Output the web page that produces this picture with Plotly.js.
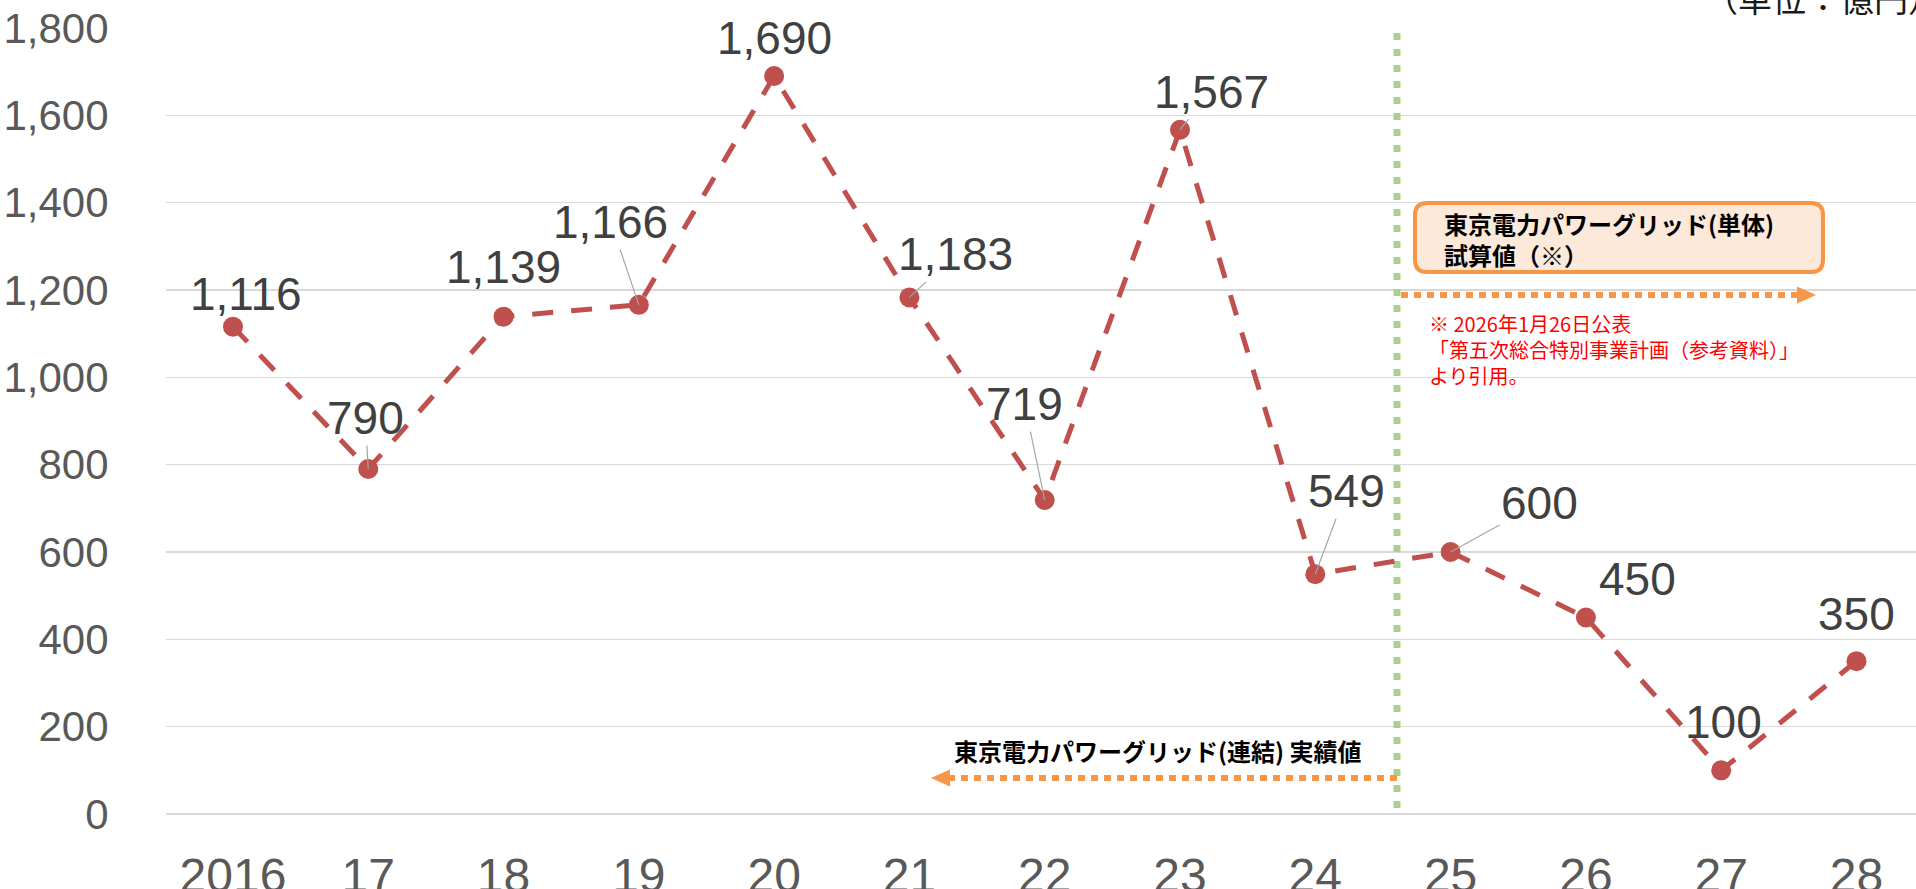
<!DOCTYPE html>
<html>
<head>
<meta charset="utf-8">
<script src="https://cdn.plot.ly/plotly-3.0.1.min.js"></script>
<style>html,body{margin:0;padding:0;background:#fff;}#chart{width:1916px;height:889px;}</style>
</head>
<body>
<div id="chart"></div>
<script>
// ---- data ----
const categories = ['2016','17','18','19','20','21','22','23','24','25','26','27','28'];
const values = [1116, 790, 1139, 1166, 1690, 1183, 719, 1567, 549, 600, 450, 100, 350];
const yTickValues = [0, 200, 400, 600, 800, 1000, 1200, 1400, 1600, 1800];

// ---- label placement (pixels relative to point) ----
const labelOffsets = [[13,-33],[-3,-51],[0,-50],[-28,-83],[0,-38],[46,-43],[-20,-96],[31,-38],[31,-83],[89,-49],[52,-39],[2,-48],[0,-47]];
const hasLeader = [false,true,false,true,false,true,true,true,true,true,false,false,false];

// ---- geometry ----
const L = 166, T = 28, W = 1750, H = 786;
const xr = [-0.495, 12.44], yr = [0, 1800];
const px2x = p => xr[0] + (p - L) / W * (xr[1] - xr[0]);
const py2y = p => yr[1] - (p - T) / H * (yr[1] - yr[0]);
const py2paper = p => 1 - (p - T) / H;

const idx = categories.map((c, i) => i);
const fmt = v => v.toLocaleString('en-US');

const trace = {
  x: idx, y: values, type: 'scatter', mode: 'lines+markers',
  line: {color: '#C0504D', width: 5, dash: '21px,18px'},
  marker: {color: '#C0504D', size: 20},
  cliponaxis: false, hoverinfo: 'skip'
};

const annotations = values.map((v, i) => ({
  x: i, y: v, xref: 'x', yref: 'y', text: fmt(v),
  showarrow: true, arrowhead: 0, arrowwidth: 1.2, standoff: 0,
  arrowcolor: hasLeader[i] ? '#A6A6A6' : 'rgba(0,0,0,0)',
  ax: labelOffsets[i][0], ay: labelOffsets[i][1],
  font: {family: 'Liberation Sans, Arial, sans-serif', size: 46, color: '#404040'}
}));

const cjk = "'Noto Sans CJK JP', 'Noto Sans', sans-serif";
annotations.push(
  {x: px2x(1442), y: py2y(239), xref: 'x', yref: 'y', xanchor: 'left', yanchor: 'middle', align: 'left', showarrow: false,
   text: '東京電力パワーグリッド(単体)<br>試算値（※）', font: {family: cjk, size: 24, color: '#000', weight: 700}},
  {x: px2x(952), y: py2y(750), xref: 'x', yref: 'y', xanchor: 'left', yanchor: 'middle', showarrow: false,
   text: '東京電力パワーグリッド(連結) 実績値', font: {family: cjk, size: 24, color: '#000', weight: 700}},
  {x: px2x(1427), y: py2y(323), xref: 'x', yref: 'y', xanchor: 'left', yanchor: 'middle', showarrow: false,
   text: '※ 2026年1月26日公表', font: {family: cjk, size: 20, color: '#FF0000'}},
  {x: px2x(1427), y: py2y(349), xref: 'x', yref: 'y', xanchor: 'left', yanchor: 'middle', showarrow: false,
   text: '「第五次総合特別事業計画（参考資料）」', font: {family: cjk, size: 20, color: '#FF0000'}},
  {x: px2x(1427), y: py2y(375), xref: 'x', yref: 'y', xanchor: 'left', yanchor: 'middle', showarrow: false,
   text: 'より引用。', font: {family: cjk, size: 20, color: '#FF0000'}},
  {x: px2x(1702), y: py2paper(-3), xref: 'x', yref: 'paper', xanchor: 'left', yanchor: 'middle', showarrow: false,
   text: '（単位：億円）', font: {family: cjk, size: 34, color: '#1a1a1a'}}
);

// rounded box
function roundRect(x0p, y0p, x1p, y1p, r) {
  const X = px2x, Y = py2y;
  return `M ${X(x0p+r)},${Y(y0p)} L ${X(x1p-r)},${Y(y0p)} Q ${X(x1p)},${Y(y0p)} ${X(x1p)},${Y(y0p+r)} ` +
         `L ${X(x1p)},${Y(y1p-r)} Q ${X(x1p)},${Y(y1p)} ${X(x1p-r)},${Y(y1p)} ` +
         `L ${X(x0p+r)},${Y(y1p)} Q ${X(x0p)},${Y(y1p)} ${X(x0p)},${Y(y1p-r)} ` +
         `L ${X(x0p)},${Y(y0p+r)} Q ${X(x0p)},${Y(y0p)} ${X(x0p+r)},${Y(y0p)} Z`;
}

const shapes = [
  {type: 'line', xref: 'x', yref: 'y', layer: 'between', x0: px2x(1397), x1: px2x(1397), y0: py2y(33), y1: py2y(808),
   line: {color: '#A9D18E', width: 7, dash: '7px,9px'}},
  {type: 'line', xref: 'x', yref: 'y', x0: px2x(1401), x1: px2x(1798), y0: py2y(295), y1: py2y(295),
   line: {color: '#F79646', width: 6, dash: '7px,6px'}},
  {type: 'path', xref: 'x', yref: 'y', path: `M ${px2x(1797)},${py2y(286.5)} L ${px2x(1816)},${py2y(295)} L ${px2x(1797)},${py2y(303.5)} Z`,
   fillcolor: '#F79646', line: {width: 0}},
  {type: 'line', xref: 'x', yref: 'y', x0: px2x(1397), x1: px2x(949), y0: py2y(778), y1: py2y(778),
   line: {color: '#F79646', width: 6, dash: '7px,6px'}},
  {type: 'path', xref: 'x', yref: 'y', path: `M ${px2x(950)},${py2y(769.5)} L ${px2x(931)},${py2y(778)} L ${px2x(950)},${py2y(786.5)} Z`,
   fillcolor: '#F79646', line: {width: 0}},
  {type: 'path', xref: 'x', yref: 'y', path: roundRect(1415, 203, 1823, 272, 12),
   fillcolor: '#FCE9DA', line: {color: '#F79646', width: 4}}
];

const layout = {
  width: 1916, height: 889,
  margin: {l: L, r: 1916 - L - W, t: T, b: 889 - T - H, pad: 0},
  paper_bgcolor: '#fff', plot_bgcolor: '#fff',
  showlegend: false,
  xaxis: {type: 'linear', range: xr, tickmode: 'array', tickvals: idx, ticktext: categories,
          showgrid: false, zeroline: false, showline: false,
          ticks: 'outside', ticklen: 19, tickcolor: 'rgba(0,0,0,0)',
          tickfont: {family: 'Liberation Sans, Arial, sans-serif', size: 48, color: '#595959'}},
  yaxis: {range: yr, tickmode: 'array', tickvals: yTickValues, ticktext: yTickValues.map(fmt),
          showgrid: true, gridcolor: '#D9D9D9', gridwidth: 1.5,
          zeroline: true, zerolinecolor: '#D9D9D9', zerolinewidth: 1.5, showline: false,
          ticks: 'outside', ticklen: 48, tickcolor: 'rgba(0,0,0,0)',
          tickfont: {family: 'Liberation Sans, Arial, sans-serif', size: 42, color: '#595959'}},
  annotations: annotations,
  shapes: shapes
};

Plotly.newPlot('chart', [trace], layout, {displayModeBar: false, staticPlot: true});
</script>
</body>
</html>
